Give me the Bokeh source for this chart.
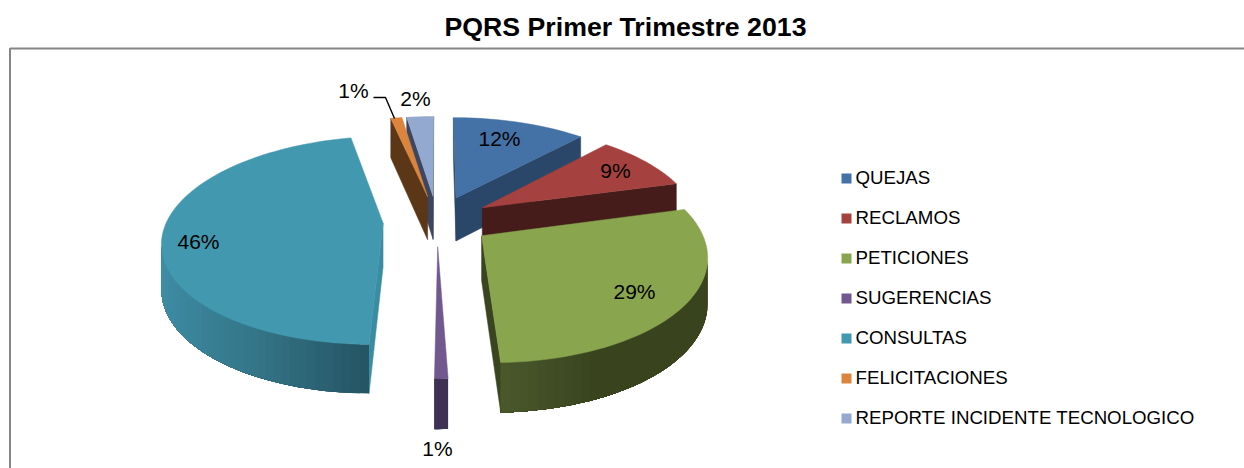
import math
from bokeh.plotting import figure
from bokeh.embed import file_html
from bokeh.resources import INLINE
from bokeh.core.properties import value

TITLE = "PQRS Primer Trimestre 2013"
categories = ["QUEJAS", "RECLAMOS", "PETICIONES", "SUGERENCIAS", "CONSULTAS",
              "FELICITACIONES", "REPORTE INCIDENTE TECNOLOGICO"]
shares = [11.9, 8.9, 28.6, 0.8, 46.4, 1.0, 2.4]

top_colors = ["#4471A6", "#A5423F", "#89A54E", "#71588F", "#4198AF", "#DB843D", "#93A9CF"]
wall_stops = [
    [(-1, (42, 70, 105)), (1, (42, 70, 105))],
    [(-1, (69, 28, 26)), (1, (69, 28, 26))],
    [(0, (77, 90, 45)), (0.4, (57, 68, 30)), (1, (57, 68, 30))],
    [(-1, (63, 49, 84)), (1, (63, 49, 84))],
    [(-1, (63, 143, 168)), (-0.5, (53, 119, 138)), (0, (36, 84, 99)), (1, (36, 84, 99))],
    [(-1, (91, 55, 24)), (1, (91, 55, 24))],
    [(-1, (60, 70, 96)), (1, (60, 70, 96))],
]
cut_colors = ["#2A4669", "#451C1A", "#3A4520", "#3F3154", "#3A8CA2", "#5B3718", "#3C4660"]
label_pos = [(499, 138), (615, 170), (634, 291), (437, 448), (198, 241), (353, 90), (415, 98)]

# projection of the exploded pie (page pixels)
CX, CY, A, B, K, EXPLODE, DEPTH = 436.5, 220.0, 216.0, 100.4, 0.165, 0.25, 44.0


def project(U, V):
    d = 1 + K * V
    return CX + A * U / d, CY - B * V / d, DEPTH / d ** 0.6


def to_hex(rgb):
    return "#%02X%02X%02X" % tuple(int(round(c)) for c in rgb)


def shade(stops, u):
    if u <= stops[0][0]:
        return stops[0][1]
    for (u0, c0), (u1, c1) in zip(stops, stops[1:]):
        if u <= u1:
            t = (u - u0) / (u1 - u0)
            return tuple(a + (b - a) * t for a, b in zip(c0, c1))
    return stops[-1][1]


p = figure(width=1244, height=468, x_range=(0, 1244), y_range=(468, 0),
           output_backend="svg", toolbar_location=None, min_border=0,
           outline_line_color=None, background_fill_color="white")
p.axis.visible = False
p.grid.visible = False

# chart frame
p.line([9.5, 9.5, 1244], [468, 48, 48], line_color="#868686", line_width=2)

# slices
total = sum(shares)
slices = []
acc = 0.0
for i, s in enumerate(shares):
    t0 = 2 * math.pi * acc / total
    t1 = 2 * math.pi * (acc + s) / total
    acc += s
    slices.append((i, t0, t1))
slices.sort(key=lambda r: -math.cos((r[1] + r[2]) / 2))

for i, t0, t1 in slices:
    m = (t0 + t1) / 2
    ox, oy = EXPLODE * math.sin(m), EXPLODE * math.cos(m)
    n = max(3, int((t1 - t0) / math.radians(2.0)))
    angs = [t0 + (t1 - t0) * j / n for j in range(n + 1)]
    rim = [project(ox + math.sin(t), oy + math.cos(t)) for t in angs]
    apex = project(ox, oy)

    def cut(a, b):
        p.patch([a[0], b[0], b[0], a[0]], [a[1], b[1], b[1] + b[2], a[1] + a[2]],
                fill_color=cut_colors[i], line_color=cut_colors[i], line_width=0.5)

    if rim[0][0] < apex[0]:
        cut(apex, rim[0])
    if apex[0] < rim[-1][0]:
        cut(rim[-1], apex)
    # outer wall: each step repaints the rest of the wall, so no seams show between steps
    visible = [j for j in range(n) if rim[j + 1][0] < rim[j][0]]
    for j in visible:
        last = visible[-1] + 1
        part = rim[j:last + 1]
        c = to_hex(shade(wall_stops[i], math.sin((angs[j] + angs[j + 1]) / 2)))
        xs = [q[0] for q in part] + [q[0] for q in reversed(part)]
        ys = [q[1] for q in part] + [q[1] + q[2] for q in reversed(part)]
        p.patch(xs, ys, fill_color=c, line_color=None)
    xs = [apex[0]] + [q[0] for q in rim]
    ys = [apex[1]] + [q[1] for q in rim]
    p.patch(xs, ys, fill_color=top_colors[i], line_color=top_colors[i], line_width=0.5)

# leader line of the small slice
p.line([373, 385, 394], [97, 97, 118], line_color="#000000", line_width=1.4)

# data labels
p.text([q[0] for q in label_pos], [q[1] for q in label_pos],
       text=[f"{round(s)}%" for s in shares],
       text_font=value("Liberation Sans"), text_font_size="21px", text_color="#000000",
       text_align="center", text_baseline="middle")

# legend
LEG_X, LEG_Y, LEG_STEP = 841, 173, 40
for i, name in enumerate(categories):
    y = LEG_Y + i * LEG_STEP
    p.quad(left=[LEG_X], right=[LEG_X + 10], top=[y], bottom=[y + 10],
           fill_color=top_colors[i], line_color=None)
p.text([855] * len(categories), [LEG_Y + 4 + i * LEG_STEP for i in range(len(categories))],
       text=categories, text_font=value("Liberation Sans"), text_font_size="18.7px",
       text_color="#000000", text_align="left", text_baseline="middle")

# title
p.text([625], [26], text=[TITLE], text_font=value("Liberation Sans"), text_font_size="26.7px",
       text_font_style="bold", text_color="#000000", text_align="center", text_baseline="middle")

open("out.html", "w").write(file_html(p, INLINE))
